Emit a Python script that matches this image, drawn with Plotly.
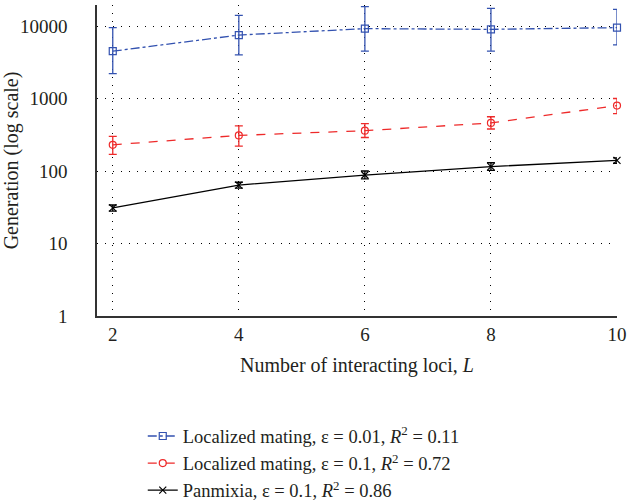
import plotly.graph_objects as go

L = [2, 4, 6, 8, 10]

blue_y = [4500, 7500, 9200, 9000, 9500]
blue_lo = [2200, 4000, 4500, 4500, 5500]
blue_hi = [9500, 14000, 18500, 17500, 17000]

red_y = [230, 310, 360, 460, 800]
red_lo = [170, 220, 290, 380, 620]
red_hi = [300, 420, 450, 560, 1000]

blk_y = [31, 64, 88, 115, 140]
blk_lo = [28, 58, 78, 102, 128]
blk_hi = [34, 70, 100, 130, 152]

names = [
    "Localized mating, ε = 0.01, <i>R</i><sup>2</sup> = 0.11",
    "Localized mating, ε = 0.1, <i>R</i><sup>2</sup> = 0.72",
    "Panmixia, ε = 0.1, <i>R</i><sup>2</sup> = 0.86",
]

yticks = [1, 10, 100, 1000, 10000]
ytick_text = ["1", "10", "100", "1000", "10000"]
xticks = [2, 4, 6, 8, 10]

FONT = "Liberation Serif"
TXT = "#231f20"

fig = go.Figure()

def add(y, lo, hi, name, color, dash, symbol):
    fig.add_trace(go.Scatter(
        x=L, y=y, name=name, mode="lines+markers", cliponaxis=False,
        line=dict(color=color, width=1.3, dash=dash),
        marker=dict(symbol=symbol, size=7, color=color, line=dict(color=color, width=1.2)),
        error_y=dict(type="data", symmetric=False,
                     array=[h - v for h, v in zip(hi, y)],
                     arrayminus=[v - l for v, l in zip(y, lo)],
                     color=color, thickness=1.3, width=4),
    ))

add(blue_y, blue_lo, blue_hi, names[0], "#3352b0", "dashdot", "square-open")
add(red_y, red_lo, red_hi, names[1], "#ee2a2a", "dash", "circle-open")
add(blk_y, blk_lo, blk_hi, names[2], "#000000", "solid", "x-thin-open")

fig.update_layout(
    width=628, height=503,
    margin=dict(l=97, r=11, t=5, b=187, autoexpand=False),
    plot_bgcolor="white", paper_bgcolor="white",
    font=dict(family=FONT, size=19, color=TXT),
    showlegend=True,
    legend=dict(x=0.088, y=0.17, xref="paper", yref="container",
                xanchor="left", yanchor="top",
                font=dict(family=FONT, size=18.5, color=TXT),
                bgcolor="rgba(0,0,0,0)", tracegroupgap=0, itemwidth=30),
    xaxis=dict(range=[1.75, 10.0], tickvals=xticks, showline=True, linecolor="#333333",
               linewidth=1.5, showgrid=True, gridcolor="#000000", gridwidth=1,
               griddash="1px,7px", zeroline=False, ticks="", automargin=False,
               tickfont=dict(size=19),
               title=dict(text="Number of interacting loci, <i>L</i>", font=dict(size=20), standoff=14)),
    yaxis=dict(type="log", range=[0, 4.29], tickvals=yticks, ticktext=ytick_text,
               showline=True, linecolor="#333333", linewidth=1.5, showgrid=True,
               gridcolor="#000000", gridwidth=1, griddash="1px,7px", zeroline=False, ticks="",
               tickfont=dict(size=19), ticklabelstandoff=24, automargin=False,
               title=dict(text="Generation (log scale)", font=dict(size=20), standoff=4)),
)

fig.write_html("out.html", config={"displayModeBar": False},
               post_script="document.body.style.margin='0';")
